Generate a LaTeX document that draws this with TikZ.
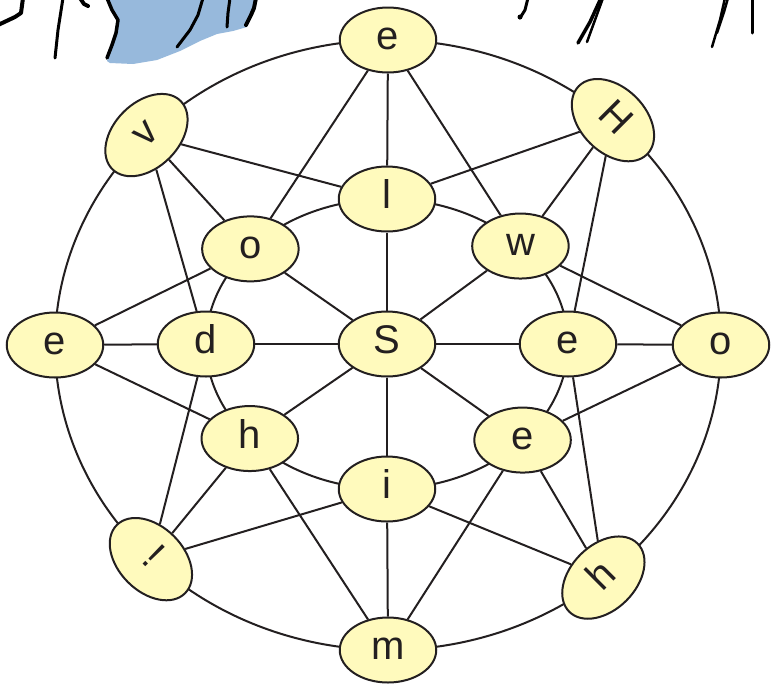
\documentclass[tikz,border=0pt]{standalone}
\usepackage{fontspec}
\setmainfont{Liberation Sans}
\usetikzlibrary{shapes.geometric,calc}
\pgfdeclarelayer{background}
\pgfsetlayers{background,main}
\definecolor{nodefill}{HTML}{FFFABD}
\definecolor{ink}{HTML}{231F20}
\definecolor{sky}{HTML}{97B9DC}
\tikzset{
  gnode/.style={ellipse, draw=ink, fill=nodefill, line width=2pt,
    minimum width=96.5pt, minimum height=65pt, inner sep=0pt,
    text height=25pt, text depth=6pt, text=ink,
    font=\fontsize{40}{48}\selectfont},
  link/.style={draw=ink, line width=2pt},
  brush/.style={draw=black, line cap=round, line join=round},
}
\begin{document}
\begin{tikzpicture}[x=1pt,y=1pt]
\useasboundingbox (0,0) rectangle (771,-689);
\clip (0,0) rectangle (771,-689);
% background sketch fragments
\fill[sky] (107,2) -- (112,-10) -- (118,-20) -- (116,-33) -- (112,-45) -- (107,-61)
  -- (110,-63) -- (133,-64) -- (157,-60) -- (180,-51) -- (200,-41) -- (217,-34)
  -- (233,-31) -- (247,-27) -- (250,-17) -- (255,-7) -- (256,2) -- cycle;
\draw[brush, line width=4pt] (-2,-25) -- (15,-17) -- (21,-13) -- (23,2);
\draw[brush, line width=3pt] (55,-58) -- (58,-30) -- (63,2);
\draw[brush, line width=4pt] (80,2) -- (84,-4) -- (88,-6);
\draw[brush, line width=3.5pt] (107,2) -- (112,-10) -- (118,-20) -- (116,-33) -- (112,-45) -- (107,-58);
\draw[brush, line width=3pt] (177,-47) -- (190,-30) -- (198,-15) -- (203,2);
\draw[brush, line width=3pt] (227,-27) -- (228,-13) -- (230,2);
\draw[brush, line width=4pt] (246,-25) -- (251,-15) -- (254,-8) -- (256,2);
\draw[brush, line width=3pt] (520,-18) -- (525,-10) -- (528,2);
\fill (520,-17) circle (2.5pt);
\draw[brush, line width=3.5pt] (578,-43) -- (590,-22) -- (601,2);
\draw[brush, line width=2.5pt] (587,-42) -- (595,-20) -- (603,2);
\draw[brush, line width=2.5pt] (712,-47) -- (720,-20) -- (725,2);
\draw[brush, line width=2.5pt] (717,-33) -- (724,-12) -- (728,2);
\draw[brush, line width=3pt] (752,-33) -- (752,2);

\coordinate (C) at (388,-345);
\coordinate (M) at (387,-344);
% centre
\node[gnode] (S) at (M) {S};
% middle ring
\node[gnode] (l)   at ($(M)+(90:181 and 145)$) {l};
\node[gnode] (w)   at ($(M)+(42.5:181 and 145)$) {w};
\node[gnode] (eR)  at ($(M)+(0:181 and 145)$) {e};
\node[gnode] (eBR) at ($(M)+(318.5:181 and 145)$) {e};
\node[gnode] (i)   at ($(M)+(270:181 and 145)$) {i};
\node[gnode] (hBL) at ($(M)+(220.7:181 and 145)$) {h};
\node[gnode] (d)   at ($(M)+(180:181 and 145)$) {d};
\node[gnode] (oM)  at ($(M)+(139:181 and 145)$) {o};
% outer ring
\node[gnode] (eT) at ($(C)+(90:333 and 305)$) {e};
\node[gnode, rotate=-45] (H) at ($(C)+(47.5:333 and 305)$) {H};
\node[gnode] (oR) at ($(C)+(0:333 and 305)$) {o};
\node[gnode, rotate=45] (hBR) at ($(C)+(310.3:333 and 305)$) {h};
\node[gnode] (m) at ($(C)+(270:333 and 305)$) {m};
\node[gnode, rotate=-45] (ex) at ($(C)+(224.6:333 and 305)$) {!};
\node[gnode] (eL) at ($(C)+(180:333 and 305)$) {e};
\node[gnode, rotate=45] (v) at ($(C)+(136.5:333 and 305)$) {v};

\begin{pgfonlayer}{background}
% outer ring arcs
\draw[link] (eT.center) arc[start angle=90, end angle=47.5, x radius=333, y radius=305];
\draw[link] (H.center) arc[start angle=47.5, end angle=0, x radius=333, y radius=305];
\draw[link] (oR.center) arc[start angle=360, end angle=310.3, x radius=333, y radius=305];
\draw[link] (hBR.center) arc[start angle=310.3, end angle=270, x radius=333, y radius=305];
\draw[link] (m.center) arc[start angle=270, end angle=224.6, x radius=333, y radius=305];
\draw[link] (ex.center) arc[start angle=224.6, end angle=180, x radius=333, y radius=305];
\draw[link] (eL.center) arc[start angle=180, end angle=136.5, x radius=333, y radius=305];
\draw[link] (v.center) arc[start angle=136.5, end angle=90, x radius=333, y radius=305];
% middle ring arcs
\draw[link] (l.center) arc[start angle=90, end angle=42.5, x radius=181, y radius=145];
\draw[link] (w.center) arc[start angle=42.5, end angle=0, x radius=181, y radius=145];
\draw[link] (eR.center) arc[start angle=360, end angle=318.5, x radius=181, y radius=145];
\draw[link] (eBR.center) arc[start angle=318.5, end angle=270, x radius=181, y radius=145];
\draw[link] (i.center) arc[start angle=270, end angle=220.7, x radius=181, y radius=145];
\draw[link] (hBL.center) arc[start angle=220.7, end angle=180, x radius=181, y radius=145];
\draw[link] (d.center) arc[start angle=180, end angle=139, x radius=181, y radius=145];
\draw[link] (oM.center) arc[start angle=139, end angle=90, x radius=181, y radius=145];
% spokes
\foreach \n in {l,w,eR,eBR,i,hBL,d,oM} \draw[link] (S) -- (\n);
% outer to middle
\draw[link] (eT) -- (l);  \draw[link] (eT) -- (oM);  \draw[link] (eT) -- (w);
\draw[link] (H) -- (w);   \draw[link] (H) -- (l);    \draw[link] (H) -- (eR);
\draw[link] (oR) -- (eR); \draw[link] (oR) -- (w);   \draw[link] (oR) -- (eBR);
\draw[link] (hBR) -- (eBR); \draw[link] (hBR) -- (i); \draw[link] (hBR) -- (eR);
\draw[link] (m) -- (i);   \draw[link] (m) -- (hBL);  \draw[link] (m) -- (eBR);
\draw[link] (ex) -- (hBL); \draw[link] (ex) -- (d);  \draw[link] (ex) -- (i);
\draw[link] (eL) -- (d);  \draw[link] (eL) -- (oM);  \draw[link] (eL) -- (hBL);
\draw[link] (v) -- (oM);  \draw[link] (v) -- (l);    \draw[link] (v) -- (d);
\end{pgfonlayer}
\end{tikzpicture}
\end{document}
